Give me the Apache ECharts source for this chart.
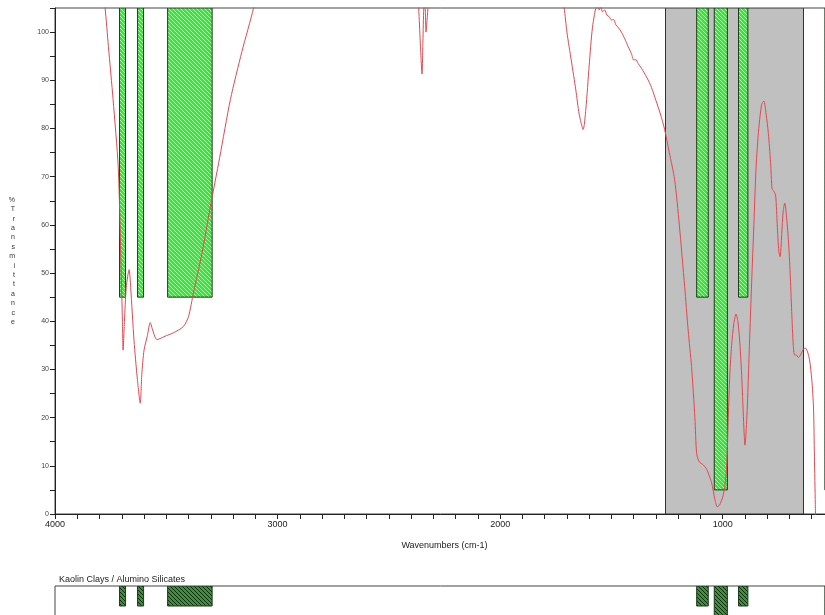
<!DOCTYPE html>
<html>
<head>
<meta charset="utf-8">
<script src="https://cdn.jsdelivr.net/npm/echarts@6/dist/echarts.min.js"></script>
<style>html,body{margin:0;padding:0;background:#fff}#c{width:825px;height:615px}</style>
</head>
<body>
<div id="c"></div>
<script>
// ---- data ----
const wavenumbers = [4000, 3800, 3775, 3760, 3739, 3716, 3703, 3697, 3694, 3688, 3680, 3667, 3660, 3645, 3630, 3617, 3610, 3600, 3585, 3572, 3560, 3542, 3500, 3468, 3423, 3400, 3378, 3340, 3302, 3260, 3212, 3160, 3108, 3080,
  2380, 2365, 2358, 2351, 2347, 2343, 2338, 2333, 2326, 2318, 2300,
  1740, 1712, 1700, 1680, 1660, 1645, 1627, 1615, 1600, 1585, 1565, 1555, 1548, 1540, 1530, 1520, 1510, 1500, 1490, 1480, 1470, 1455, 1440, 1425, 1410, 1400, 1390, 1380, 1365, 1340, 1320, 1300, 1280,
  1261, 1240, 1216, 1195, 1171, 1155, 1140, 1125, 1117, 1105, 1090, 1075, 1065, 1050, 1035, 1025, 1015, 1000, 990, 982, 975, 968, 960, 950, 940, 932, 923, 914, 905, 900, 895, 888, 880, 870, 860, 850, 838, 825, 815, 805, 795, 785, 778, 770, 762, 755, 748, 742, 735, 728, 721, 714, 705, 697, 690, 683, 677, 670, 660, 650, 640, 630, 620, 610, 600, 592, 588, 584, 582];
const transmittance = [120, 115, 105, 97, 86, 72, 51, 40, 34, 40, 47, 50.7, 47, 36, 28, 23, 29, 34, 37, 39.7, 38, 36.2, 37, 37.6, 38.9, 41, 45.9, 54, 63.8, 74, 86, 96, 105, 112,
  115, 104, 97, 91.3, 98, 105, 106, 100, 104, 108, 115,
  115, 105, 100, 94, 88, 83, 79.8, 84, 93, 101, 105.5, 104.6, 105.3, 104.2, 104.6, 103.5, 103.2, 102.5, 102.6, 101.5, 101, 100, 98.6, 97, 95.5, 94.2, 94.3, 93.5, 92.5, 90.5, 88.5, 85.8, 83,
  79.8, 75, 69.4, 60, 47.2, 38, 30.6, 20, 12.5, 10.8, 10.3, 9.5, 8.5, 6.5, 3, 1.5, 1.8, 3.5, 6, 10, 20, 29, 35, 39.5, 41.5, 40, 35.5, 28, 18, 14.3, 17, 24, 35, 48, 60, 72, 80, 85, 85.7, 83, 79, 73, 67.4, 67, 66, 60, 54.5, 53.4, 58, 63, 64.5, 62, 57, 50, 42, 35, 33, 33, 32.5, 33, 34, 34.5, 33.8, 32, 28, 22, 12, 2, -5];

// reference bands (Kaolin Clays / Alumino Silicates)
const bandStart  = [3710, 3629, 3494, 1117, 1038, 929, 541];
const bandEnd    = [3683, 3602, 3294, 1065,  979, 887, 500];
const bandBottom = [  45,   45,   45,   45,    5,  45,   5];

// highlighted region
const grayRegion = [1257, 637];

const xLabelValues = [4000, 3000, 2000, 1000];
const yLabelValues = [0, 10, 20, 30, 40, 50, 60, 70, 80, 90, 100];

const libraryName = 'Kaolin Clays / Alumino Silicates';

// ---- chart ----
const X_MIN = 500, X_MAX = 4000, Y_MAX = 105;

function hatch(bg, fg, size) {
  const c = document.createElement('canvas');
  c.width = c.height = size;
  const g = c.getContext('2d');
  g.fillStyle = bg; g.fillRect(0, 0, size, size);
  g.strokeStyle = fg; g.lineWidth = 1;
  g.beginPath();
  g.moveTo(-1, -1); g.lineTo(size + 1, size + 1);
  g.moveTo(size - 1, -1); g.lineTo(size + 1, 1);
  g.moveTo(-1, size - 1); g.lineTo(1, size + 1);
  g.stroke();
  return c;
}
const mainPattern = { image: hatch('#33ea33', '#b8f8b8', 4), repeat: 'repeat' };
const libPattern = { image: hatch('#3f8f3f', '#0f2a0f', 4), repeat: 'repeat' };

const lineData = wavenumbers.map((w, i) => [w, transmittance[i]]);
const bandData = bandStart.map((s, i) => [s, bandEnd[i], bandBottom[i]]);

function bandRenderer(pattern, stroke) {
  return function (params, api) {
    const p0 = api.coord([api.value(0), Y_MAX]);
    const p1 = api.coord([api.value(1), api.value(2)]);
    return {
      type: 'rect',
      shape: { x: Math.min(p0[0], p1[0]), y: p0[1], width: Math.abs(p1[0] - p0[0]), height: p1[1] - p0[1] },
      style: { fill: pattern, stroke: stroke, lineWidth: 1 }
    };
  };
}

const chart = echarts.init(document.getElementById('c'), null, { renderer: 'canvas' });
const font = 'Liberation Sans';
chart.setOption({
  animation: false,
  backgroundColor: '#fff',
  title: {
    text: libraryName, left: 54, top: 570,
    textStyle: { fontFamily: font, fontSize: 9, fontWeight: 'normal', color: '#222' }
  },
  grid: [
    { left: 55, top: 8, width: 779, height: 506, outerBoundsMode: 'none', containLabel: false, show: true, borderColor: '#444', borderWidth: 1, backgroundColor: 'transparent' },
    { left: 55, top: 586, width: 779, height: 35, outerBoundsMode: 'none', containLabel: false, show: true, borderColor: '#444', borderWidth: 1, backgroundColor: 'transparent' }
  ],
  xAxis: [
    {
      type: 'value', gridIndex: 0, inverse: true, min: X_MIN, max: X_MAX, interval: 100,
      name: 'Wavenumbers (cm-1)', nameLocation: 'middle', nameGap: 27,
      nameTextStyle: { fontFamily: font, fontSize: 9, color: '#222' },
      axisLine: { show: true, onZero: false, lineStyle: { color: '#222', width: 1 } },
      axisTick: { show: true, inside: false, length: 5, lineStyle: { color: '#222' } },
      axisLabel: {
        fontFamily: font, fontSize: 9, color: '#222', margin: 6,
        formatter: v => xLabelValues.indexOf(v) >= 0 ? String(v) : ''
      },
      splitLine: { show: false }
    },
    { type: 'value', gridIndex: 1, inverse: true, min: X_MIN, max: X_MAX, show: false }
  ],
  yAxis: [
    {
      type: 'value', gridIndex: 0, min: 0, max: Y_MAX, interval: 5,
      name: '%\nT\nr\na\nn\ns\nm\ni\nt\nt\na\nn\nc\ne', nameLocation: 'middle', nameRotate: 0, nameGap: 40,
      nameTextStyle: { fontFamily: font, fontSize: 7, color: '#333', lineHeight: 9.4 },
      axisLine: { show: true, lineStyle: { color: '#222', width: 1 } },
      axisTick: { show: true, inside: false, length: 5, lineStyle: { color: '#222' } },
      axisLabel: {
        fontFamily: font, fontSize: 7, color: '#444', margin: 6,
        formatter: v => yLabelValues.indexOf(v) >= 0 ? String(v) : ''
      },
      splitLine: { show: false }
    },
    { type: 'value', gridIndex: 1, min: 0, max: Y_MAX, show: false }
  ],
  series: [
    {
      type: 'custom', xAxisIndex: 0, yAxisIndex: 0, z: 1, clip: true, silent: true,
      data: [[grayRegion[0], grayRegion[1], 0]],
      renderItem: function (params, api) {
        const p0 = api.coord([api.value(0), Y_MAX]);
        const p1 = api.coord([api.value(1), api.value(2)]);
        return {
          type: 'rect',
          shape: { x: p0[0], y: p0[1], width: p1[0] - p0[0], height: p1[1] - p0[1] },
          style: { fill: '#c0c0c0', stroke: '#333', lineWidth: 1 }
        };
      }
    },
    {
      type: 'custom', xAxisIndex: 0, yAxisIndex: 0, z: 2, clip: true, silent: true,
      data: bandData, renderItem: bandRenderer(mainPattern, '#1c3a1c')
    },
    {
      type: 'custom', xAxisIndex: 1, yAxisIndex: 1, z: 2, clip: true, silent: true,
      data: bandData, renderItem: bandRenderer(libPattern, '#1c3a1c')
    },
    {
      type: 'line', xAxisIndex: 0, yAxisIndex: 0, z: 3, clip: true, silent: true,
      data: lineData, showSymbol: false, smooth: 0.25,
      lineStyle: { color: '#e4474f', width: 1 }
    }
  ]
});
</script>
</body>
</html>
